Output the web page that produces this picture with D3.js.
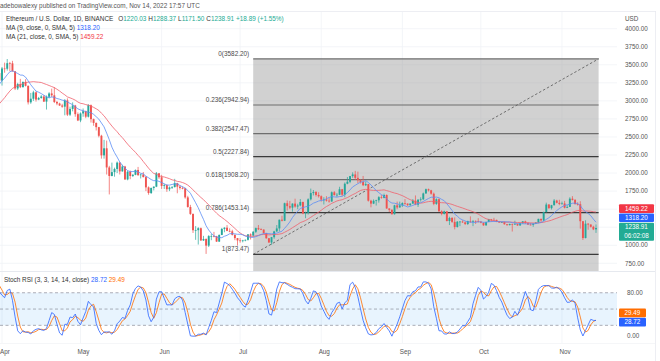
<!DOCTYPE html>
<html>
<head>
<meta charset="utf-8">
<script src="https://cdnjs.cloudflare.com/ajax/libs/d3/7.8.5/d3.min.js"></script>
<style>
  body { margin: 0; background: #fff; }
  svg { display: block; font-family: "Liberation Sans", Arial, sans-serif; }
</style>
</head>
<body>
<svg id="chart" width="660" height="361"></svg>
<script>
// daily closes from Feb 1 (the first weeks only warm up the MA / Stoch RSI)
const closeStart = "2022-02-01";
const closes = [
  2790, 2690, 2665, 2990, 3020, 3050, 3140, 3120, 3240, 3075, 2925, 2915, 2880, 2930, 3185, 3125, 2885, 2785, 2765, 2625, 2575, 2640, 2590, 2600, 2780, 2780, 2620, 2920,
  2970, 2950, 2835, 2620, 2665, 2555, 2495, 2575, 2728, 2609, 2558, 2571, 2519, 2591, 2620, 2772, 2814, 2944, 2950, 2860, 2897, 2973, 3030, 3108, 3105, 3143, 3300, 3331, 3401, 3385, 3281,
  3449, 3445, 3522, 3520, 3410, 3172, 3233, 3190, 3262, 3209, 2980, 3030, 3118, 3018, 3040, 3061, 2990, 3057, 3103, 3077, 2985, 2964, 2936, 2920, 3007, 2809, 2889, 2936, 2816, 2729,
  2826, 2857, 2781, 2940, 2747, 2695, 2636, 2517, 2245, 2343, 2078, 1960, 2013, 2057, 2145, 2023, 2091, 1912, 2018, 1960, 1976, 2043, 1972, 1980, 1944, 1802, 1724, 1793, 1812, 1997, 1942,
  1822, 1833, 1776, 1801, 1806, 1860, 1812, 1793, 1789, 1663, 1530, 1434, 1208, 1209, 1236, 1067, 1087, 995, 1127, 1127, 1124, 1051, 1143, 1226, 1243, 1199, 1193, 1144, 1099, 1067,
  1060, 1067, 1075, 1151, 1134, 1187, 1237, 1221, 1217, 1168, 1097, 1038, 1112, 1192, 1233, 1354, 1340, 1582, 1542, 1521, 1577, 1536, 1551, 1599, 1440, 1450, 1636, 1723, 1737, 1697, 1679,
  1632, 1633, 1617, 1607, 1734, 1694, 1700, 1776, 1700, 1852, 1880, 1958, 1981, 1934, 1901, 1877, 1832, 1847, 1617, 1577, 1616, 1623, 1666, 1657, 1696, 1510, 1490, 1430, 1553, 1524, 1553,
  1585, 1577, 1556, 1577, 1618, 1562, 1630, 1636, 1718, 1776, 1761, 1714, 1573, 1638, 1472, 1433, 1470, 1336, 1378, 1324, 1253, 1326, 1328, 1317, 1295, 1335, 1330, 1336, 1334, 1328,
  1311, 1276, 1323, 1361, 1352, 1351, 1330, 1315, 1322, 1291, 1279, 1295, 1289, 1296, 1274, 1305, 1331, 1310, 1286, 1283, 1299, 1315, 1365, 1344, 1459, 1564, 1514, 1555, 1619, 1588, 1572,
  1579, 1519, 1531, 1645, 1628, 1570, 1568, 1333, 1100, 1299, 1287, 1256, 1220.03, 1238.91
];

// highs / lows for the candles on screen (Mar 30 .. Nov 14)
const wickStart = "2022-03-30";
const highs = [
  3446, 3439,
  3470, 3530, 3580, 3540, 3555, 3414, 3250, 3305, 3270, 3300, 3212, 3110, 3140, 3130, 3055, 3080, 3080, 3075, 3120, 3170, 3190, 3000, 2975, 2960, 3025, 3035, 2920, 2980, 2945, 2840,
  2840, 2895, 2865, 2955, 2950, 2755, 2700, 2640, 2530, 2460, 2450, 2100, 2145, 2075, 2160, 2150, 2115, 2100, 2035, 2035, 1985, 2050, 2085, 1990, 2015, 1960, 1815, 1800, 1815, 2015, 2000,
  1975, 1850, 1845, 1815, 1820, 1920, 1865, 1830, 1815, 1795, 1685, 1560, 1440, 1265, 1250, 1245, 1130, 1095, 1140, 1160, 1185, 1130, 1150, 1240, 1250, 1280, 1235, 1215, 1150, 1100,
  1100, 1075, 1080, 1155, 1165, 1195, 1245, 1280, 1235, 1220, 1170, 1100, 1115, 1200, 1280, 1355, 1410, 1590, 1620, 1615, 1580, 1645, 1575, 1640, 1605, 1465, 1650, 1785, 1765, 1750, 1735,
  1690, 1665, 1680, 1660, 1745, 1750, 1725, 1810, 1780, 1870, 1945, 1960, 2010, 2030, 2020, 1915, 1960, 1885, 1850, 1630, 1635, 1630, 1680, 1695, 1715, 1705, 1510, 1500, 1560, 1605, 1605,
  1595, 1640, 1580, 1580, 1640, 1690, 1640, 1665, 1730, 1785, 1785, 1768, 1730, 1650, 1650, 1485, 1480, 1475, 1395, 1390, 1385, 1335, 1335, 1345, 1330, 1340, 1400, 1350, 1345, 1375,
  1335, 1315, 1325, 1365, 1365, 1380, 1355, 1335, 1325, 1330, 1295, 1300, 1300, 1340, 1300, 1310, 1335, 1340, 1315, 1310, 1305, 1320, 1368, 1370, 1465, 1590, 1570, 1560, 1640, 1630, 1630,
  1605, 1615, 1555, 1665, 1680, 1640, 1595, 1610, 1335, 1345, 1305, 1290, 1270, 1288.37
];
const lows = [
  3350, 3270,
  3212, 3390, 3420, 3410, 3405, 3150, 3150, 3177, 3185, 3200, 2950, 2960, 3000, 2990, 3010, 3030, 2985, 2880, 3035, 3050, 2970, 2940, 2930, 2905, 2800, 2790, 2790, 2855, 2780, 2720,
  2705, 2780, 2760, 2770, 2700, 2655, 2590, 2495, 2200, 2200, 1980, 1704, 1955, 1950, 2000, 1980, 2020, 1905, 1900, 1915, 1945, 1970, 1960, 1925, 1940, 1750, 1700, 1710, 1760, 1805, 1920,
  1780, 1780, 1740, 1750, 1780, 1800, 1720, 1770, 1775, 1645, 1520, 1420, 1170, 1075, 1010, 1060, 1060, 880, 975, 1070, 1110, 1045, 1045, 1140, 1180, 1195, 1180, 1135, 1070, 995,
  1035, 1040, 1055, 1065, 1080, 1120, 1170, 1210, 1210, 1160, 1090, 1035, 1006, 1090, 1185, 1190, 1330, 1335, 1480, 1500, 1465, 1520, 1500, 1540, 1430, 1375, 1425, 1620, 1690, 1675, 1660,
  1605, 1565, 1605, 1590, 1600, 1690, 1670, 1695, 1680, 1665, 1845, 1860, 1935, 1905, 1860, 1855, 1820, 1820, 1605, 1525, 1570, 1550, 1590, 1645, 1650, 1505, 1460, 1425, 1425, 1500, 1520,
  1530, 1560, 1545, 1545, 1575, 1555, 1530, 1605, 1630, 1712, 1745, 1700, 1555, 1560, 1460, 1415, 1425, 1330, 1280, 1310, 1220, 1245, 1265, 1310, 1280, 1280, 1310, 1265, 1295, 1315,
  1305, 1270, 1270, 1320, 1325, 1345, 1320, 1310, 1310, 1285, 1270, 1275, 1190, 1285, 1270, 1272, 1300, 1295, 1280, 1275, 1255, 1295, 1305, 1320, 1335, 1455, 1505, 1495, 1550, 1580, 1555,
  1565, 1510, 1515, 1530, 1620, 1565, 1550, 1230, 1073, 1095, 1215, 1245, 1210, 1171.5
];

const priceTicks = [750, 1000, 1250, 1500, 1750, 2000, 2250, 2500, 2750, 3000, 3250, 3500, 3750, 4000];
const rsiTicks = [0, 80];
const rsiBands = [20, 50, 80];
const monthTicks = ["2022-04-01", "2022-05-01", "2022-06-01", "2022-07-01", "2022-08-01", "2022-09-01", "2022-10-01", "2022-11-01"];
const monthLabels = ["Apr", "May", "Jun", "Jul", "Aug", "Sep", "Oct", "Nov"];

const fibLevels = [0, 0.236, 0.382, 0.5, 0.618, 0.786, 1];
const fibHigh = 3582.20, fibLow = 873.47;
const fibDates = ["2022-07-06", "2022-11-15"];

const lastOHLC = ["1220.03", "1288.37", "1171.50", "1238.91"];
const lastChange = "+18.89 (+1.55%)";
const ma9Last = 1318.20, ma21Last = 1459.22, closeLast = 1238.91;
const kLast = 28.72, dLast = 29.49;
const countdown = "06:02:08";

const UP = "#26a69a", DOWN = "#ef5350";
const BLUE = "#2962ff", RED = "#f23645", ORANGE = "#ff6d00";
const MA9C = "#5b8df5", MA21C = "#f0606c";

const svg = d3.select("#chart");
const paneR = 617;
const mainTop = 12, mainBot = 271, rsiTop = 272, rsiBot = 343;

const DAY = 864e5;
const t0 = Date.parse(closeStart);
const bars = closes.map((c, i) => ({ t: new Date(t0 + i * DAY), c: c, o: i ? closes[i - 1] : c }));
const w0 = Math.round((Date.parse(wickStart) - t0) / DAY);
highs.forEach((h, j) => {
  const b = bars[w0 + j];
  b.h = Math.max(h, b.o, b.c);
  b.l = Math.min(lows[j], b.o, b.c);
});

// indicators
function sma(src, n) {
  return src.map((v, i) => {
    if (i < n - 1) return null;
    const win = src.slice(i - n + 1, i + 1);
    if (win.some(x => x == null)) return null;
    return d3.mean(win);
  });
}
function rsi(src, n) {
  const out = src.map(() => null);
  let up = 0, dn = 0;
  for (let i = 1; i < src.length; i++) {
    const ch = src[i] - src[i - 1];
    const u = Math.max(ch, 0), d = Math.max(-ch, 0);
    if (i <= n) {
      up += u; dn += d;
      if (i === n) { up /= n; dn /= n; out[i] = dn === 0 ? 100 : 100 - 100 / (1 + up / dn); }
    } else {
      up = (up * (n - 1) + u) / n;
      dn = (dn * (n - 1) + d) / n;
      out[i] = dn === 0 ? 100 : 100 - 100 / (1 + up / dn);
    }
  }
  return out;
}
function stoch(src, n) {
  return src.map((v, i) => {
    if (v == null || i < n - 1) return null;
    const win = src.slice(i - n + 1, i + 1);
    if (win.some(x => x == null)) return null;
    const lo = d3.min(win), hi = d3.max(win);
    return hi === lo ? 0 : (v - lo) / (hi - lo) * 100;
  });
}
const ma9 = sma(closes, 9);
const ma21 = sma(closes, 21);
const rsi14 = rsi(closes, 14);
const kLine = sma(stoch(rsi14, 14), 3);
const dLine = sma(kLine, 3);

// scales
const x = d3.scaleUtc().domain([new Date("2022-04-01"), new Date("2022-11-14")]).range([2, 596]);
const y = d3.scaleLinear().domain([750, 4000]).range([263.3, 28.7]);
const yr = d3.scaleLinear().domain([0, 100]).range([336.2, 281.9]);

const defs = svg.append("defs");
defs.append("clipPath").attr("id", "clipMain").append("rect")
  .attr("x", 0).attr("y", mainTop).attr("width", paneR).attr("height", mainBot - mainTop);
defs.append("clipPath").attr("id", "clipRsi").append("rect")
  .attr("x", 0).attr("y", rsiTop).attr("width", paneR).attr("height", rsiBot - rsiTop);

// frame
svg.append("line").attr("x1", 0).attr("x2", 656).attr("y1", 11.5).attr("y2", 11.5).attr("stroke", "#e0e3eb").attr("stroke-width", 0.6);
svg.append("line").attr("x1", 655.5).attr("x2", 655.5).attr("y1", 11.5).attr("y2", 361).attr("stroke", "#e0e3eb").attr("stroke-width", 0.6);
svg.append("line").attr("x1", 0).attr("x2", 655).attr("y1", 271.5).attr("y2", 271.5).attr("stroke", "#e0e3eb").attr("stroke-width", 0.8);
svg.append("line").attr("x1", 0).attr("x2", 655).attr("y1", 343.5).attr("y2", 343.5).attr("stroke", "#eef0f4").attr("stroke-width", 0.6);

// grid
const main = svg.append("g").attr("clip-path", "url(#clipMain)");
main.selectAll(".hg").data(priceTicks).join("line")
  .attr("x1", 0).attr("x2", paneR).attr("y1", d => y(d)).attr("y2", d => y(d))
  .attr("stroke", "#f0f2f6").attr("stroke-width", 0.8);
main.selectAll(".vg").data(monthTicks).join("line")
  .attr("x1", d => x(new Date(d))).attr("x2", d => x(new Date(d)))
  .attr("y1", mainTop).attr("y2", mainBot)
  .attr("stroke", "#f0f2f6").attr("stroke-width", 0.8);

// fib retracement
const fx0 = x(new Date(fibDates[0])), fx1 = x(new Date(fibDates[1]));
const fibPrice = l => fibHigh - l * (fibHigh - fibLow);
main.append("rect").attr("x", fx0).attr("y", y(fibHigh)).attr("width", fx1 - fx0).attr("height", mainBot - y(fibHigh))
  .attr("fill", "#9a9a9a").attr("fill-opacity", 0.46);
main.selectAll(".fl").data(fibLevels).join("line")
  .attr("x1", fx0).attr("x2", fx1)
  .attr("y1", d => y(fibPrice(d))).attr("y2", d => y(fibPrice(d)))
  .attr("stroke", d => (d === 0.5 || d === 0.786 || d === 1) ? "#3a3a3a" : "#6e6e6e")
  .attr("stroke-width", 1.2);
main.append("line").attr("x1", fx0).attr("y1", y(fibLow)).attr("x2", fx1).attr("y2", y(fibHigh))
  .attr("stroke", "#555").attr("stroke-width", 0.8).attr("stroke-dasharray", "2.5,2");
svg.selectAll(".ft").data(fibLevels).join("text")
  .attr("x", fx0 - 4).attr("y", d => y(fibPrice(d)) - 3)
  .attr("text-anchor", "end").attr("font-size", 6.4).attr("fill", "#4a4a4a")
  .text(d => d + "(" + fibPrice(d).toFixed(2) + ")");

// candles
const vis = bars.slice(w0);
const cw = 1.9;
main.selectAll(".wick").data(vis).join("line")
  .attr("x1", d => x(d.t)).attr("x2", d => x(d.t))
  .attr("y1", d => y(d.h)).attr("y2", d => y(d.l))
  .attr("stroke", d => d.c >= d.o ? UP : DOWN).attr("stroke-width", 0.7);
main.selectAll(".body").data(vis).join("rect")
  .attr("x", d => x(d.t) - cw / 2).attr("width", cw)
  .attr("y", d => y(Math.max(d.o, d.c)))
  .attr("height", d => Math.max(0.7, Math.abs(y(d.o) - y(d.c))))
  .attr("fill", d => d.c >= d.o ? UP : DOWN);

// moving averages
const idx = bars.map((b, i) => i).slice(w0 - 2);
function drawLine(g, arr, sc, color, w) {
  const pts = idx.filter(i => arr[i] != null).map(i => [x(bars[i].t), sc(arr[i])]);
  g.append("path").attr("d", d3.line()(pts)).attr("fill", "none").attr("stroke", color).attr("stroke-width", w);
}
drawLine(main, ma21, y, MA21C, 0.8);
drawLine(main, ma9, y, MA9C, 0.8);

// Stoch RSI pane
const rsiG = svg.append("g").attr("clip-path", "url(#clipRsi)");
rsiG.selectAll(".vg").data(monthTicks).join("line")
  .attr("x1", d => x(new Date(d))).attr("x2", d => x(new Date(d)))
  .attr("y1", rsiTop).attr("y2", rsiBot)
  .attr("stroke", "#f0f2f6").attr("stroke-width", 0.8);
rsiG.append("rect").attr("x", 0).attr("width", paneR)
  .attr("y", yr(rsiBands[2])).attr("height", yr(rsiBands[0]) - yr(rsiBands[2]))
  .attr("fill", "#2196f3").attr("fill-opacity", 0.1);
rsiG.selectAll(".band").data(rsiBands).join("line")
  .attr("x1", 0).attr("x2", paneR).attr("y1", d => yr(d)).attr("y2", d => yr(d))
  .attr("stroke", "#787b86").attr("stroke-width", 0.6).attr("stroke-dasharray", "3,2.5");
drawLine(rsiG, dLine, yr, ORANGE, 0.8);
drawLine(rsiG, kLine, yr, BLUE, 0.8);

// axes text
const axisFont = 6.3;
svg.selectAll(".pt").data(priceTicks).join("text")
  .attr("x", 625).attr("y", d => y(d) + 2.2).attr("font-size", axisFont).attr("fill", "#555")
  .text(d => d.toFixed(2));
svg.append("text").attr("x", 625).attr("y", 20.5).attr("font-size", axisFont).attr("fill", "#555").text("USD");
svg.selectAll(".rt").data(rsiTicks).join("text")
  .attr("x", 627).attr("y", d => yr(d) + 2.2).attr("font-size", axisFont).attr("fill", "#555")
  .text(d => d.toFixed(2));
svg.selectAll(".mt").data(monthTicks).join("text")
  .attr("x", d => x(new Date(d)) + 3).attr("y", 354).attr("text-anchor", "middle")
  .attr("font-size", axisFont).attr("fill", "#555")
  .text((d, i) => monthLabels[i]);

// value tags on the axes: lowest one sits on its value, the others stack above it
function tags(items, bottomPad) {
  items.sort((a, b) => b.y - a.y);
  let floor = null;
  items.forEach(it => {
    const h = it.lines.length * 8.6 + (it.lines.length > 1 ? 0.8 : 0);
    let top = it.y - 4.3 + bottomPad;
    if (floor !== null && top + h > floor - 0.6) top = floor - 0.6 - h;
    floor = top;
    svg.append("rect").attr("x", 619).attr("y", top).attr("width", it.w).attr("height", h).attr("rx", 1).attr("fill", it.color);
    it.lines.forEach((s, k) => {
      svg.append("text").attr("x", 619 + it.w / 2).attr("y", top + 6.3 + k * 8.6)
        .attr("text-anchor", "middle").attr("font-size", axisFont).attr("fill", "#fff").text(s);
    });
  });
}
tags([
  { y: y(closeLast), lines: [closeLast.toFixed(2), countdown], color: "#22ab94", w: 35 },
  { y: y(ma9Last), lines: [ma9Last.toFixed(2)], color: BLUE, w: 35 },
  { y: y(ma21Last), lines: [ma21Last.toFixed(2)], color: RED, w: 35 }
], -1);
tags([
  { y: yr(kLast), lines: [kLast.toFixed(2)], color: BLUE, w: 27 },
  { y: yr(dLast), lines: [dLast.toFixed(2)], color: ORANGE, w: 27 }
], 1.5);

// header / legends
const hf = 6.4;
svg.append("text").attr("x", 0).attr("y", 7.5).attr("font-size", hf).attr("fill", "#555")
  .text("adebowalexy published on TradingView.com, Nov 14, 2022 17:57 UTC");
const h2 = svg.append("text").attr("x", 6).attr("y", 21.3).attr("font-size", hf).attr("fill", "#333");
h2.append("tspan").text("Ethereum / U.S. Dollar, 1D, BINANCE");
["O", "H", "L", "C"].forEach((k, i) => {
  h2.append("tspan").attr("fill", "#333").attr("dx", i ? 2 : 5).text(k);
  h2.append("tspan").attr("fill", "#22ab94").text(lastOHLC[i]);
});
h2.append("tspan").attr("fill", "#22ab94").attr("dx", 2).text(lastChange);
const h3 = svg.append("text").attr("x", 6).attr("y", 30).attr("font-size", hf).attr("fill", "#333");
h3.append("tspan").text("MA (9, close, 0, SMA, 5) ");
h3.append("tspan").attr("fill", BLUE).text(ma9Last.toFixed(2));
const h4 = svg.append("text").attr("x", 6).attr("y", 38.6).attr("font-size", hf).attr("fill", "#333");
h4.append("tspan").text("MA (21, close, 0, SMA, 5) ");
h4.append("tspan").attr("fill", RED).text(ma21Last.toFixed(2));

const h5 = svg.append("text").attr("x", 4).attr("y", 282).attr("font-size", hf).attr("fill", "#333");
h5.append("tspan").text("Stoch RSI (3, 3, 14, 14, close) ");
h5.append("tspan").attr("fill", BLUE).text(kLast.toFixed(2));
h5.append("tspan").attr("fill", ORANGE).text(" " + dLast.toFixed(2));
</script>
</body>
</html>
